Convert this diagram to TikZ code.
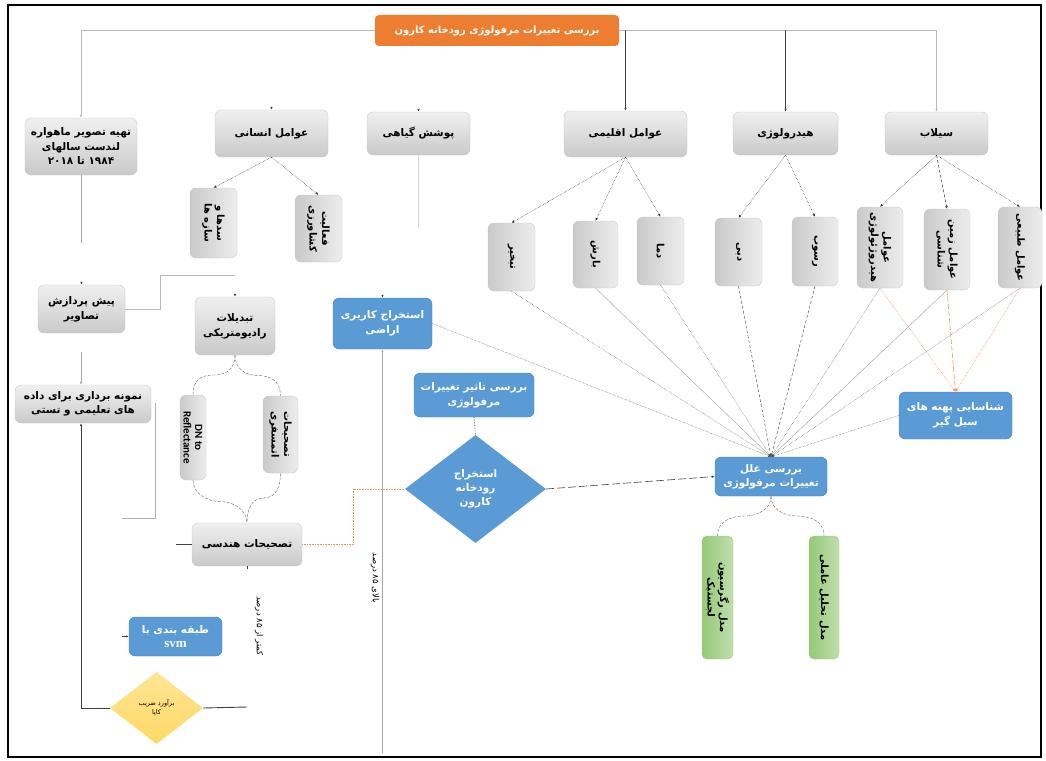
\documentclass[tikz,border=0pt]{standalone}
\usepackage{fontspec}
\usetikzlibrary{arrows.meta,shapes.geometric,calc}
\TeXXeTstate=1
\newfontfamily\fafont[Script=Arabic]{DejaVu Sans}
\newfontfamily\carlitofont{Carlito}
\newfontfamily\serifbfont{Liberation Serif}
\newcommand{\faR}[1]{\beginR #1\endR}
\newcommand{\fbx}{\fafont\bfseries\fontsize{10.5}{15}\selectfont}
\newcommand{\fvx}{\fafont\bfseries\fontsize{10}{12.5}\selectfont}
\newcommand{\fsx}{\fafont\fontsize{8.5}{10}\selectfont}
\newcommand{\fkx}{\fafont\fontsize{6.5}{9}\selectfont}
\definecolor{blueF}{RGB}{91,155,213}
\definecolor{blueD}{RGB}{70,130,190}
\definecolor{orangeT}{RGB}{237,125,49}
\definecolor{orangeL}{RGB}{244,150,90}
\definecolor{greenA}{RGB}{150,200,120}
\definecolor{greenB}{RGB}{192,222,172}
\definecolor{yellowK}{RGB}{255,217,102}
\tikzset{
  gbox/.style={rounded corners=6pt, top color=gray!12, bottom color=gray!42, draw=gray!45, line width=0.3pt, inner sep=2pt, align=center, font=\fbx},
  vbox/.style={rounded corners=6pt, left color=gray!42, right color=gray!14, draw=gray!45, line width=0.3pt, inner sep=0pt},
  grbox/.style={rounded corners=5pt, left color=greenA, right color=greenB, draw=greenA, line width=0.3pt, inner sep=0pt},
  bbox/.style={rounded corners=6pt, fill=blueF, draw=blueD, line width=0.4pt, text=white, align=center, font=\fbx, inner sep=2pt},
  vtext/.style={rotate=-90, align=center, font=\fvx, inner sep=0pt},
  tipA/.style={-{Latex[length=3pt,width=2.5pt]}},
  childc/.style={densely dotted, line width=0.5pt, draw=black!80, tipA},
  gline/.style={draw=gray!55, line width=0.8pt},
  dline/.style={draw=black!75, line width=0.6pt},
  conv/.style={line width=0.45pt, draw=black!70, tipA},
  oline/.style={draw=orangeL, densely dotted, line width=0.6pt},
  bracel/.style={draw=black!60, line width=0.4pt, dash pattern=on 3pt off 1.5pt},
}
\begin{document}
\begin{tikzpicture}[x=1pt,y=-1pt]
\useasboundingbox (0,0) rectangle (1046,760);
\draw[line width=1.5pt] (8,5) rectangle (1041,757);

% ---------- nodes ----------
\node[rounded corners=4pt, fill=orangeT, text=white, font=\fafont\bfseries\fontsize{10}{12}\selectfont, minimum width=244pt, minimum height=31pt, inner sep=0pt] (title) at (497,30.5) {\faR{بررسی تغییرات مرفولوژی رودخانه کارون}};

\node[gbox, minimum width=112pt, minimum height=57pt, font=\fafont\bfseries\fontsize{10.5}{14.5}\selectfont] (land) at (81,146.5) {\faR{تهیه تصویر ماهواره}\\\faR{لندست سالهای}\\\faR{۱۹۸۴ تا ۲۰۱۸}};
\node[gbox, minimum width=113pt, minimum height=47pt] (ensani) at (271.5,133.5) {\faR{عوامل انسانی}};
\node[gbox, minimum width=103pt, minimum height=43pt] (pooshesh) at (418.5,133.5) {\faR{پوشش گیاهی}};
\node[gbox, minimum width=123pt, minimum height=46pt] (eghlimi) at (625.5,134) {\faR{عوامل اقلیمی}};
\node[gbox, minimum width=105pt, minimum height=43pt] (hydro) at (785.5,133.5) {\faR{هیدرولوژی}};
\node[gbox, minimum width=103pt, minimum height=43pt] (seilab) at (936.5,133.5) {\faR{سیلاب}};

% vertical boxes
\node[vbox, minimum width=47pt, minimum height=70pt] (sadha) at (213.5,223) {};
\node[vtext] (sadhaT) at (sadha) {\faR{سدها و}\\\faR{سازه ها}};
\node[vbox, minimum width=47pt, minimum height=67pt] (kesh) at (318.5,228.5) {};
\node[vtext] (keshT) at (kesh) {\faR{فعالیت}\\\faR{کشاورزی}};
\node[vbox, minimum width=47pt, minimum height=68pt] (tabkhir) at (511.5,257) {};
\node[vtext] (tabkhirT) at (tabkhir) {\faR{تبخیر}};
\node[vbox, minimum width=45pt, minimum height=67pt] (barsh) at (595.5,254.5) {};
\node[vtext] (barshT) at (barsh) {\faR{بارش}};
\node[vbox, minimum width=47pt, minimum height=68pt] (dama) at (660.5,251) {};
\node[vtext] (damaT) at (dama) {\faR{دما}};
\node[vbox, minimum width=47pt, minimum height=68pt] (dabi) at (738.5,252) {};
\node[vtext] (dabiT) at (dabi) {\faR{دبی}};
\node[vbox, minimum width=46pt, minimum height=69pt] (rosoob) at (815,251.5) {};
\node[vtext] (rosoobT) at (rosoob) {\faR{رسوب}};
\node[vbox, minimum width=46pt, minimum height=81pt] (hgeo) at (880,247.5) {};
\node[vtext] (hgeoT) at (hgeo) {\faR{عوامل}\\\faR{هیدروژئولوژی}};
\node[vbox, minimum width=46pt, minimum height=81pt] (zamin) at (947,249.5) {};
\node[vtext] (zaminT) at (zamin) {\faR{عوامل زمین}\\\faR{شناسی}};
\node[vbox, minimum width=44pt, minimum height=81pt] (tabiei) at (1020,247.5) {};
\node[vtext] (tabieiT) at (tabiei) {\faR{عوامل طبیعی}};

\node[gbox, minimum width=87pt, minimum height=48pt] (pish) at (81.5,309) {\faR{پیش پردازش}\\\faR{تصاویر}};
\node[gbox, minimum width=80pt, minimum height=58pt] (radio) at (235,326) {\faR{تبدیلات}\\\faR{رادیومتریکی}};
\node[gbox, minimum width=136pt, minimum height=38pt, font=\fafont\bfseries\fontsize{10.5}{14}\selectfont] (nemune) at (83,404) {\faR{نمونه برداری برای داده}\\\faR{های تعلیمی و تستی}};
\node[vbox, minimum width=26pt, minimum height=85pt] (dn) at (193,437.5) {};
\node[rotate=-90, align=center, inner sep=0pt, font=\carlitofont\bfseries\fontsize{11}{11.5}\selectfont] (dnT) at (dn) {DN to\\Reflectance};
\node[vbox, minimum width=35pt, minimum height=77pt] (atmos) at (280.5,434.5) {};
\node[vtext] (atmosT) at (atmos) {\faR{تصحیحات}\\\faR{اتمسفری}};
\node[gbox, minimum width=110pt, minimum height=43pt] (hendesi) at (247,544.5) {\faR{تصحیحات هندسی}};

\node[bbox, minimum width=99pt, minimum height=51pt] (karbari) at (382.5,323.5) {\faR{استخراج کاربری}\\\faR{اراضی}};
\node[bbox, minimum width=120pt, minimum height=44pt] (tasir) at (474,395) {\faR{بررسی تاثیر تغییرات}\\\faR{مرفولوژی}};
\node[diamond, fill=blueF, text=white, font=\fafont\bfseries\fontsize{10.5}{14}\selectfont, align=center, minimum width=141pt, minimum height=108pt, inner sep=0pt] (river) at (475.5,489) {\faR{استخراج}\\\faR{رودخانه}\\\faR{کارون}};
\node[bbox, minimum width=112pt, minimum height=39pt, font=\fafont\bfseries\fontsize{10.5}{14}\selectfont] (elal) at (771,476.5) {\faR{بررسی علل}\\\faR{تغییرات مرفولوژی}};
\node[bbox, minimum width=113pt, minimum height=47pt] (shen) at (955.5,415.5) {\faR{شناسایی پهنه های}\\\faR{سیل گیر}};
\node[grbox, minimum width=31pt, minimum height=123pt] (reg) at (717.5,597.5) {};
\node[vtext] (regT) at (reg) {\faR{مدل رگرسیون}\\\faR{لجستیک}};
\node[grbox, minimum width=30pt, minimum height=123pt] (fact) at (824,597.5) {};
\node[vtext] (factT) at (fact) {\faR{مدل تحلیل عاملی}};
\node[bbox, minimum width=93pt, minimum height=39pt, font=\fafont\bfseries\fontsize{10.5}{14}\selectfont] (svm) at (175.5,636.5) {\faR{طبقه بندی با}\\{\serifbfont\bfseries\fontsize{13}{13}\selectfont svm}};
\node[diamond, top color=yellowK!70, bottom color=yellowK, draw=none, font=\fkx, align=center, minimum width=93pt, minimum height=72pt, inner sep=0pt] (kappa) at (156.5,708) {\faR{برآورد ضریب}\\\faR{کاپا}};

\node[rotate=-90, font=\fsx, inner sep=0pt] (lowT) at (259,626) {\faR{کمتر از ۸۵ درصد}};
\node[rotate=-90, font=\fsx, inner sep=0pt] (highT) at (375,578) {\faR{بالای ۸۵ درصد}};

% ---------- coordinates for free ends ----------
\coordinate (landEnd) at (81,243);
\coordinate (pgEnd) at (418.5,228);
\coordinate (pishTop) at (81,352);
\coordinate (stepTop) at (160,275);
\coordinate (stepEnd) at (235,275);
\coordinate (vlA) at (155,403);
\coordinate (vlB) at (155,518);
\coordinate (vlC) at (122,518);
\coordinate (hwest) at (176,544.5);
\coordinate (oc) at (353,544.5);
\coordinate (kEnd) at (247,707);
\coordinate (karBot) at (382.5,753);

% ---------- top tree ----------
\draw[gline, {Latex[length=3pt,width=2.5pt]}-] (land.north) |- (title.west);
\draw[gline, tipA] (title.east) -| (seilab.north);
\draw[dline, tipA] (title.east -| eghlimi.north) -- (eghlimi.north);
\draw[dline, tipA] (title.east -| hydro.north) -- (hydro.north);

\draw[childc] (ensani.south) -- (sadha.north);
\draw[childc] (ensani.south) -- (kesh.north);
\draw[childc] (eghlimi.south) -- (tabkhir.north);
\draw[childc] (eghlimi.south) -- (barsh.north);
\draw[childc] (eghlimi.south) -- (dama.north);
\draw[childc] (hydro.south) -- (dabi.north);
\draw[childc] (hydro.south) -- (rosoob.north);
\draw[childc] (seilab.south) -- (hgeo.north);
\draw[childc, densely dashed] (seilab.south) -- (zamin.north);
\draw[childc] (seilab.south) -- (tabiei.north);

% tiny stubs
\draw[dline, tipA] ($(ensani.north)+(0,-3)$) -- (ensani.north);
\draw[dline, tipA] ($(pooshesh.north)+(0,-3)$) -- (pooshesh.north);
\draw[dline, tipA] ($(radio.north)+(0,-3)$) -- (radio.north);
\draw[dline, tipA] ($(karbari.north)+(0,-3)$) -- (karbari.north);
\draw[dline, tipA] ($(pish.north)+(0,-3)$) -- (pish.north);
\draw[dline] (hendesi.south) -- ($(hendesi.south)+(0,3)$);

% ---------- left chain ----------
\draw[gline, draw=gray!70] (land.south) -- (landEnd);
\draw[gline, draw=gray!30] (pooshesh.south) -- (pgEnd);
\draw[gline] (pish.east) -| (stepTop) -- (stepEnd);
\draw[dline, draw=gray!70, tipA] (pishTop) -- (nemune.north -| pishTop);
\draw[dline, line width=0.9pt, {Latex[length=3pt,width=2.5pt]}-] (nemune.south -| land.south) |- (kappa.west);
\draw[dline, line width=0.9pt] (kappa.east) -- (kEnd);
\draw[gline, draw=gray!60] (vlA) -- (vlB) -- (vlC);
\draw[dline, line width=0.9pt] (hwest) -- (hendesi.west);
\draw[dline, tipA] ($(svm.west)+(-7,0)$) -- (svm.west);
\draw[oline] (hendesi.east) -- (oc) |- (river.west);
\draw[dline, draw=gray!70, {Latex[length=3pt,width=2.5pt]}-] (karbari.south) -- (karBot);

% braces
\draw[bracel] (radio.south) .. controls +(0,14) and +(12,0) .. ($(radio.south)!0.5!(dn.north)$) .. controls +(-14,0) and +(0,-14) .. (dn.north);
\draw[bracel] (radio.south) .. controls +(0,14) and +(-12,0) .. ($(radio.south)!0.5!(atmos.north)$) .. controls +(14,0) and +(0,-14) .. (atmos.north);
\draw[bracel] (dn.south) .. controls +(0,14) and +(-12,0) .. ($(dn.south)!0.5!(hendesi.north)$) .. controls +(12,0) and +(0,-14) .. (hendesi.north);
\draw[bracel] (atmos.south) .. controls +(0,14) and +(12,0) .. ($(atmos.south)!0.5!(hendesi.north)$) .. controls +(-12,0) and +(0,-14) .. (hendesi.north);
\draw[bracel] (elal.south) .. controls +(0,14) and +(12,0) .. ($(elal.south)!0.5!(reg.north)$) .. controls +(-14,0) and +(0,-14) .. (reg.north);
\draw[bracel] (elal.south) .. controls +(0,14) and +(-12,0) .. ($(elal.south)!0.5!(fact.north)$) .. controls +(14,0) and +(0,-14) .. (fact.north);

% ---------- right part ----------
\draw[dline, densely dotted] (tasir.south) -- (river.north);
\draw[dline, dash pattern=on 8pt off 3pt, tipA] (river.east) -- (elal.west);

\draw[conv, densely dotted] (karbari.east) -- (elal.north);
\draw[conv, densely dotted] (tabkhir.south) -- (elal.north);
\draw[conv, draw=gray!70] (barsh.south) -- (elal.north);
\draw[conv, densely dotted] (dama.south) -- (elal.north);
\draw[conv, densely dashed] (dabi.south) -- (elal.north);
\draw[conv, densely dashed] (rosoob.south) -- (elal.north);
\draw[conv, densely dotted] (hgeo.south) -- (elal.north);
\draw[conv, draw=gray!70] (zamin.south) -- (elal.north);
\draw[conv, densely dotted] (tabiei.south) -- (elal.north);
\draw[conv, densely dotted] (shen.west) -- (elal.north);

\draw[oline, tipA] (hgeo.south) -- (shen.north);
\draw[oline, dash pattern=on 5pt off 2pt, tipA] (zamin.south) -- (shen.north);
\draw[oline, tipA] (tabiei.south) -- (shen.north);
\end{tikzpicture}
\end{document}
